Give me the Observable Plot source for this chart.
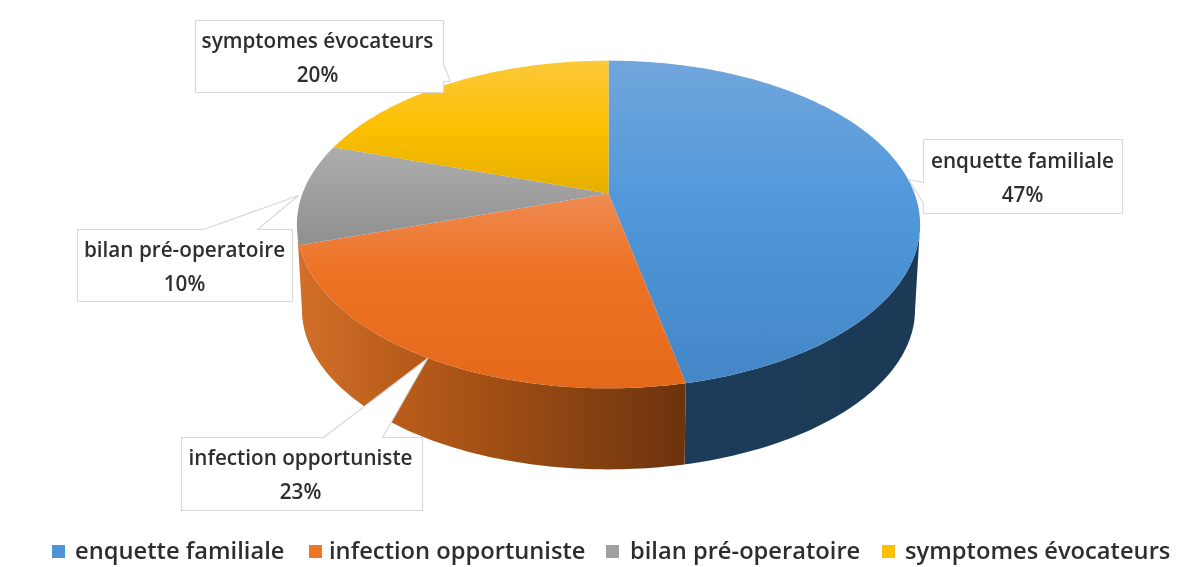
<!DOCTYPE html>
<html><head><meta charset="utf-8">
<script src="https://cdn.jsdelivr.net/npm/d3@7"></script>
<script src="https://cdn.jsdelivr.net/npm/@observablehq/plot@0.6"></script>
<style>
html,body{margin:0;background:#fff;width:1203px;height:567px;overflow:hidden}
#wrap{filter:blur(.55px);width:1203px;height:567px;position:relative}
#legend{position:absolute;left:0;top:530px;width:1203px;height:37px;font:600 23.7px "Open Sans",sans-serif;color:#2e2e2e}
#legend span{position:absolute;top:4px;white-space:nowrap}
#legend i{position:absolute;top:15px;width:13px;height:13px}
svg{display:block}
</style></head><body><div id="wrap"><div id="chart"></div><div id="legend"></div></div>
<script>
const categories = ["enquette familiale","infection opportuniste","bilan pré-operatoire","symptomes évocateurs"];
const shares = [46.7,23.3,10,20];
const percentLabels = ["47%","23%","10%","20%"];
const legendColors = ["#4f95d6","#ee7724","#a0a0a0","#fcc000"];

// Layout of the tilted disc and the callouts (page units)
const W=1203,H=530;
const view={cx:608,k:.189,top:{cy:193,a:158,b:306},bot:{cy:279,a:154,b:301}};
const silhouette=[101,259];
const layout=[
  {box:[923,139,1122,213],side:"left",base:[182,203],tip:[908,179],tx:1022,ty:[161,195]},
  {box:[181,437,422,510],side:"top",base:[323,382],tip:[427,358],tx:300,ty:[458,492]},
  {box:[77,229,292,301],side:"top",base:[203,257],tip:[298,195],tx:184,ty:[250,284]},
  {box:[195,20,443,92],side:"right",base:[64,81],tip:[450,81],tx:317,ty:[41,75]}
];

function project(deg,f){
  const t=deg*Math.PI/180,u=Math.sin(t),v=-Math.cos(t),d=1-view.k*v;
  return {x:view.cx+f.b*u/d,y:f.cy+f.a*v/d};
}
const rad=(a,b,step=1)=>{const r=d3.range(a,b,step);r.push(b);return r;};
let acc=0;
const spans=shares.map(s=>{const a=acc*3.6;acc+=s;return [a,acc*3.6];});

const faces=spans.map(([a,b])=>[{x:view.cx,y:view.top.cy},...rad(a,b).map(d=>project(d,view.top))]);
const walls=[
  [...rad(silhouette[0],spans[0][1]).map(d=>project(d,view.top)),...rad(silhouette[0],spans[0][1]).reverse().map(d=>project(d,view.bot))],
  [...rad(spans[1][0],silhouette[1]).map(d=>project(d,view.top)),...rad(spans[1][0],silhouette[1]).reverse().map(d=>project(d,view.bot))]
];
function callout(l){
  const [x0,y0,x1,y1]=l.box,[p,q]=l.base,[tx,ty]=l.tip;
  let pts;
  if(l.side==="top") pts=[[x0,y0],[p,y0],[tx,ty],[q,y0],[x1,y0],[x1,y1],[x0,y1]];
  if(l.side==="left") pts=[[x0,y0],[x1,y0],[x1,y1],[x0,y1],[x0,q],[tx,ty],[x0,p]];
  if(l.side==="right") pts=[[x0,y0],[x1,y0],[x1,p],[tx,ty],[x1,q],[x1,y1],[x0,y1]];
  pts.push(pts[0]);
  return pts.map(([x,y])=>({x,y}));
}
const vgrad=(id,stops)=>`<linearGradient id="${id}" x1="0" y1="0" x2="0" y2="1">${stops.map(([o,c])=>`<stop offset="${o}" stop-color="${c}"/>`).join("")}</linearGradient>`;
const hgrad=(id,stops)=>`<linearGradient id="${id}" x1="0" y1="0" x2="1" y2="0">${stops.map(([o,c])=>`<stop offset="${o}" stop-color="${c}"/>`).join("")}</linearGradient>`;
const defs=()=>{
  const g=d3.create("svg:g");
  g.html(`<defs>
  ${vgrad("f0",[[0,"#71a6dc"],[.45,"#5098da"],[1,"#4486c6"]])}
  ${vgrad("f1",[[0,"#ef8a52"],[.4,"#ed7224"],[1,"#e4691a"]])}
  ${vgrad("f2",[[0,"#adadad"],[1,"#8f8f8f"]])}
  ${vgrad("f3",[[0,"#fdc83a"],[.5,"#fbc002"],[1,"#e6ae00"]])}
  ${hgrad("w0",[[0,"#1b3c5a"],[1,"#1c3a55"]])}
  ${hgrad("w1",[[0,"#d2702a"],[.3,"#b65a19"],[.55,"#9c4c14"],[1,"#6c330e"]])}
  </defs>`);
  return g.node();
};
const fillMark=(d,fill)=>Plot.line(d,{x:"x",y:"y",fill,stroke:"none",curve:"linear"});
const labelFont={fontFamily:"Open Sans, sans-serif",fontWeight:600,fontSize:20.7,fill:"#2e2e2e"};
const chart=Plot.plot({
  width:W,height:H,margin:0,
  x:{domain:[0,W],range:[0,W],axis:null},
  y:{domain:[0,H],range:[0,H],axis:null},
  marks:[
    defs,
    fillMark(walls[0],"url(#w0)"),
    fillMark(walls[1],"url(#w1)"),
    ...faces.map((f,i)=>fillMark(f,`url(#f${i})`)),
    ...layout.map(l=>Plot.line(callout(l),{x:"x",y:"y",fill:"#fff",stroke:"#d9d9d9",strokeWidth:1.2,curve:"linear"})),
    Plot.text(layout.map((l,i)=>({x:l.tx,y:l.ty[0],t:categories[i]})),{x:"x",y:"y",text:"t",...labelFont}),
    Plot.text(layout.map((l,i)=>({x:l.tx,y:l.ty[1],t:percentLabels[i]})),{x:"x",y:"y",text:"t",...labelFont})
  ]
});
document.getElementById("chart").append(chart);
const legendPos=[[52,75],[309,329],[606,630],[882,905]];
const lg=document.getElementById("legend");
categories.forEach((c,i)=>{
  const sq=document.createElement("i");sq.style.left=legendPos[i][0]+"px";sq.style.background=legendColors[i];lg.append(sq);
  const s=document.createElement("span");s.style.left=legendPos[i][1]+"px";s.textContent=c;lg.append(s);
});
</script></body></html>
